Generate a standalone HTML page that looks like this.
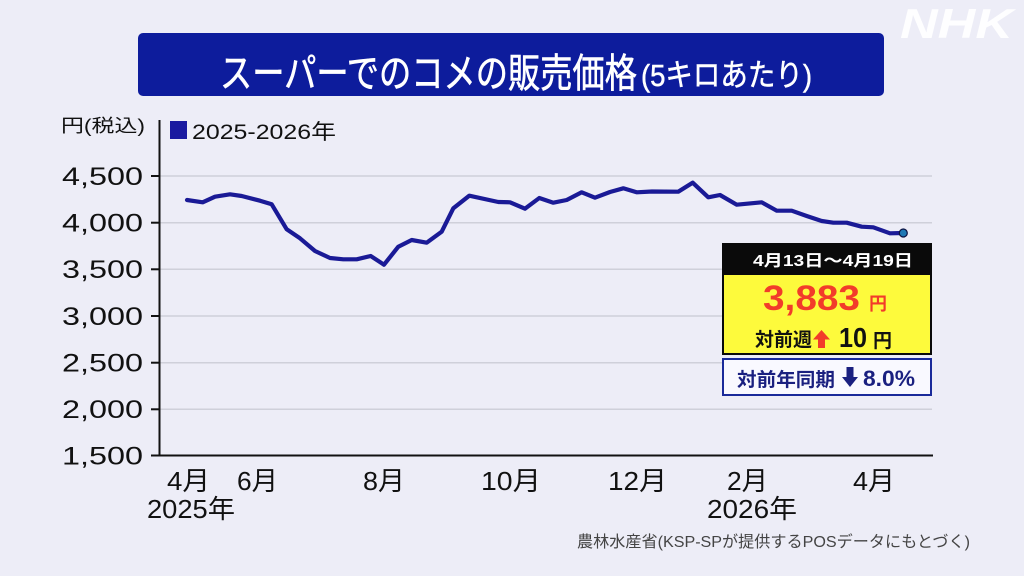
<!DOCTYPE html>
<html><head><meta charset="utf-8"><style>
html,body{margin:0;padding:0;background:#ededf7;}
svg{display:block;}
text{font-family:"Liberation Sans","Noto Sans CJK JP",sans-serif;}
</style></head><body>
<svg width="1024" height="576" viewBox="0 0 1024 576" xmlns="http://www.w3.org/2000/svg">
<rect x="0" y="0" width="1024" height="576" fill="#ededf7"/>
<!-- NHK logo -->
<text x="900" y="38" font-size="42" font-weight="bold" font-style="italic" fill="#ffffff" fill-opacity="0.9" textLength="113" lengthAdjust="spacingAndGlyphs">NHK</text>
<!-- Title bar -->
<rect x="138" y="33" width="746" height="63" rx="5" ry="5" fill="#0d1c9c"/>
<text x="220" y="87" font-size="40" fill="#ffffff" stroke="#ffffff" stroke-width="0.6" textLength="417" lengthAdjust="spacingAndGlyphs">スーパーでのコメの販売価格</text>
<text x="641" y="86" font-size="31" fill="#ffffff" stroke="#ffffff" stroke-width="0.5" textLength="171" lengthAdjust="spacingAndGlyphs">(5キロあたり)</text>
<!-- axis unit & legend -->
<text x="61" y="132" font-size="18" fill="#111" textLength="84" lengthAdjust="spacingAndGlyphs">円(税込)</text>
<rect x="170" y="121" width="17" height="18" fill="#1a1aa0"/>
<text x="192" y="139" font-size="21" fill="#111" textLength="144" lengthAdjust="spacingAndGlyphs">2025-2026年</text>
<!-- gridlines -->
<g stroke="#cfd0da" stroke-width="1.5">
<line x1="160" y1="176" x2="932" y2="176"/>
<line x1="160" y1="222.7" x2="932" y2="222.7"/>
<line x1="160" y1="269.3" x2="932" y2="269.3"/>
<line x1="160" y1="316" x2="932" y2="316"/>
<line x1="160" y1="362.7" x2="932" y2="362.7"/>
<line x1="160" y1="409.3" x2="932" y2="409.3"/>
</g>
<!-- axes -->
<g stroke="#111" stroke-width="2">
<line x1="159.5" y1="120" x2="159.5" y2="456"/>
<line x1="151" y1="455.5" x2="933" y2="455.5"/>
<line x1="151" y1="176" x2="159.5" y2="176"/>
<line x1="151" y1="222.7" x2="159.5" y2="222.7"/>
<line x1="151" y1="269.3" x2="159.5" y2="269.3"/>
<line x1="151" y1="316" x2="159.5" y2="316"/>
<line x1="151" y1="362.7" x2="159.5" y2="362.7"/>
<line x1="151" y1="409.3" x2="159.5" y2="409.3"/>
</g>
<!-- y labels -->
<g font-size="25" fill="#111">
<text x="62" y="185" textLength="81" lengthAdjust="spacingAndGlyphs">4,500</text>
<text x="62" y="231.6" textLength="81" lengthAdjust="spacingAndGlyphs">4,000</text>
<text x="62" y="278.2" textLength="81" lengthAdjust="spacingAndGlyphs">3,500</text>
<text x="62" y="324.9" textLength="81" lengthAdjust="spacingAndGlyphs">3,000</text>
<text x="62" y="371.6" textLength="81" lengthAdjust="spacingAndGlyphs">2,500</text>
<text x="62" y="418.2" textLength="81" lengthAdjust="spacingAndGlyphs">2,000</text>
<text x="62" y="464.3" textLength="81" lengthAdjust="spacingAndGlyphs">1,500</text>
</g>
<!-- x labels -->
<g font-size="26" fill="#111">
<text x="167" y="490" textLength="43" lengthAdjust="spacingAndGlyphs">4月</text>
<text x="237" y="490" textLength="41" lengthAdjust="spacingAndGlyphs">6月</text>
<text x="363" y="490" textLength="42" lengthAdjust="spacingAndGlyphs">8月</text>
<text x="481" y="490" textLength="60" lengthAdjust="spacingAndGlyphs">10月</text>
<text x="608" y="490" textLength="59" lengthAdjust="spacingAndGlyphs">12月</text>
<text x="727" y="490" textLength="41" lengthAdjust="spacingAndGlyphs">2月</text>
<text x="853" y="490" textLength="42" lengthAdjust="spacingAndGlyphs">4月</text>
<text x="147" y="518" textLength="88" lengthAdjust="spacingAndGlyphs">2025年</text>
<text x="707" y="518" textLength="90" lengthAdjust="spacingAndGlyphs">2026年</text>
</g>
<text x="577" y="547" font-size="16" fill="#444" textLength="393" lengthAdjust="spacingAndGlyphs">農林水産省(KSP-SPが提供するPOSデータにもとづく)</text>
<!-- data line -->
<polyline fill="none" stroke="#1a1a96" stroke-width="4.2" stroke-linejoin="round" stroke-linecap="round" points="187,200 202.7,202.3 215,196.7 230,194.3 241.7,196 260,200.7 271.7,204.3 286.7,229.3 300,238.3 315,251 330,258 343.3,259.3 356.7,259.3 370.7,256 384,264.7 398.3,246.7 411.7,240 426.7,242.7 441.7,231.7 453.3,208.3 469.3,195.7 498.3,202 510,202.3 525,208.7 539.3,198 553.3,202.7 566.7,200 581.7,192.3 595,197.7 610,192 623.3,188.3 636.7,192.3 652,191.5 678.3,191.7 692.7,182.7 708.3,197.3 720,195 736.7,204.7 761.7,202.3 776.7,210.7 791.7,210.7 806.7,216 821.7,221 833.3,222.7 846.7,222.7 861.7,226.7 873.3,227.3 890,233.3 903.3,233"/>
<circle cx="903.3" cy="233" r="4" fill="#1e78b4" stroke="#0a1040" stroke-width="1.2"/>
<!-- info box -->
<rect x="722" y="243" width="210" height="31" fill="#0a0a0a"/>
<text x="753" y="266" font-size="16" font-weight="bold" fill="#ffffff" textLength="160" lengthAdjust="spacingAndGlyphs">4月13日～4月19日</text>
<rect x="723" y="274" width="208" height="80" fill="#fdfa3c" stroke="#0a0a0a" stroke-width="2"/>
<text x="763" y="310" font-size="35" font-weight="bold" fill="#f23c2a" textLength="97" lengthAdjust="spacingAndGlyphs">3,883</text>
<text x="869" y="310" font-size="18" font-weight="bold" fill="#f23c2a" textLength="18" lengthAdjust="spacingAndGlyphs">円</text>
<text x="755" y="346" font-size="19" font-weight="bold" fill="#111" textLength="57" lengthAdjust="spacingAndGlyphs">対前週</text>
<polygon points="821.5,330 830,339.5 825,339.5 825,348 818,348 818,339.5 813,339.5" fill="#f23c2a"/>
<text x="839" y="347" font-size="28" font-weight="bold" fill="#111" textLength="28" lengthAdjust="spacingAndGlyphs">10</text>
<text x="873" y="347" font-size="19" font-weight="bold" fill="#111" textLength="19" lengthAdjust="spacingAndGlyphs">円</text>
<rect x="723" y="359" width="208" height="36" fill="#f9f9ff" stroke="#1a2a9a" stroke-width="2"/>
<text x="737" y="386" font-size="19" font-weight="bold" fill="#1a2080" textLength="98" lengthAdjust="spacingAndGlyphs">対前年同期</text>
<polygon points="846.5,367 853.5,367 853.5,377 858,377 850,387 842,377 846.5,377" fill="#1a2080"/>
<text x="863" y="386" font-size="22" font-weight="bold" fill="#1a2080" textLength="52" lengthAdjust="spacingAndGlyphs">8.0%</text>
</svg>
</body></html>
